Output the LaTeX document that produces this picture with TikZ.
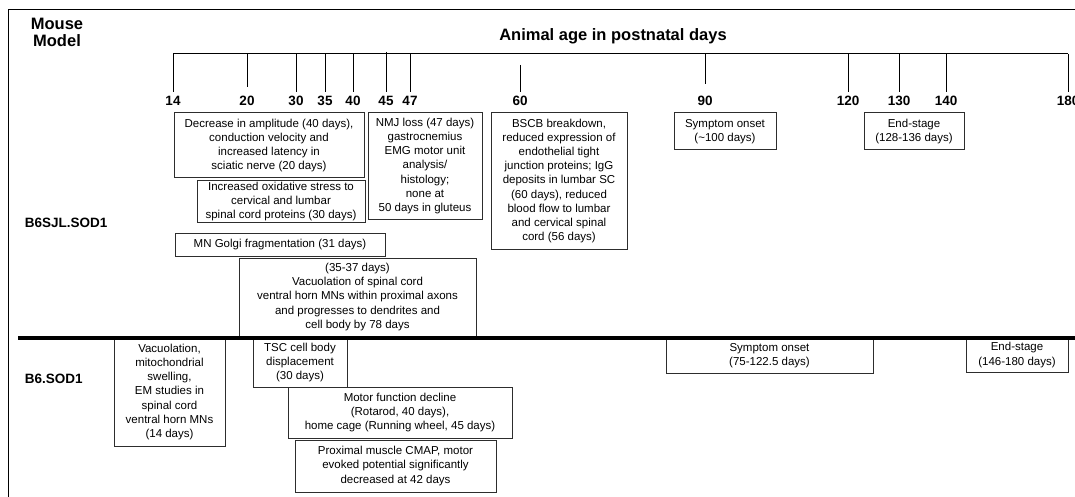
\documentclass[tikz,border=0pt]{standalone}
\usepackage{fontspec}
\setmainfont{Liberation Sans}
\usepackage{tikz}
\usetikzlibrary{positioning}
\definecolor{boxline}{RGB}{45,45,45}

\tikzset{
    evbox/.style={draw=boxline, line width=1pt, align=center, inner sep=0pt,
        font=\fontsize{11.5}{14.2}\selectfont},
    ticklabel/.style={font=\fontsize{13.5}{15}\selectfont\bfseries, anchor=base},
    rowlabel/.style={font=\fontsize{13.5}{16}\selectfont\bfseries, anchor=base west},
    headlabel/.style={font=\fontsize{16.5}{17}\selectfont\bfseries, align=center, inner sep=0pt}
}

\begin{document}
\begin{tikzpicture}[x=1pt, y=-1pt, line width=1pt]
    \useasboundingbox (0,0) rectangle (1075,497);

    % Frame
    \draw (8,497) -- (8,10) -- (1075,10);

    % Headings
    \node[headlabel] (model) at (57,32.5) {Mouse\\Model};
    \node[headlabel, anchor=base] (title) at (613,41) {Animal age in postnatal days};

    % Age axis
    \draw (173,54) -- (1068,54);
    \foreach \d/\x/\ya/\yb in {14/173/54/92, 20/247/54/87, 30/296/54/92, 35/325/54/92,
                               40/353/54/92, 45/386/52/92, 47/410/54/92, 60/520/65/92,
                               90/705/54/84, 120/848/54/92, 130/899/54/92, 140/946/54/92,
                               180/1068/54/92} {
        \draw (\x,\ya) -- (\x,\yb);
        \node[ticklabel] (t\d) at (\x,106) {\d};
    }

    % B6SJL.SOD1
    \node[rowlabel] (sjl) at (21,227) {B6SJL.SOD1};
    \node[evbox, minimum width=190pt, minimum height=65pt] (ampl) at (269,145.5)
        {Decrease in amplitude (40 days),\\conduction velocity and\\increased latency in\\sciatic nerve (20 days)};
    \node[evbox, minimum width=114pt, minimum height=106pt] (nmj) at (425,166)
        {NMJ loss (47 days)\\gastrocnemius\\EMG motor unit\\analysis/\\histology;\\none at\\50 days in gluteus};
    \node[evbox, minimum width=168pt, minimum height=41pt] (oxid) at (281,201.5)
        {Increased oxidative stress to\\cervical and lumbar\\spinal cord proteins (30 days)};
    \node[evbox, minimum width=210pt, minimum height=23pt] (golgi) at (280,244.5)
        {MN Golgi fragmentation (31 days)};
    \node[evbox, minimum width=237pt, minimum height=78pt] (vacsc) at (357.5,297)
        {(35-37 days)\\Vacuolation of spinal cord\\ventral horn MNs within proximal axons\\and progresses to dendrites and\\cell body by 78 days};
    \node[evbox, minimum width=136pt, minimum height=136pt] (bscb) at (559,181)
        {BSCB breakdown,\\reduced expression of\\endothelial tight\\junction proteins; IgG\\deposits in lumbar SC\\(60 days), reduced\\blood flow to lumbar\\and cervical spinal\\cord (56 days)};
    \node[evbox, minimum width=102pt, minimum height=37pt] (onsetsjl) at (725,131.5)
        {Symptom onset\\(\textasciitilde100 days)};
    \node[evbox, minimum width=100pt, minimum height=37pt] (endsjl) at (914,131.5)
        {End-stage\\(128-136 days)};

    % B6.SOD1
    \node[rowlabel] (sod) at (21,383) {B6.SOD1};
    \node[evbox, minimum width=111pt, minimum height=108pt] (vacmito) at (169.5,392)
        {Vacuolation,\\mitochondrial\\swelling,\\EM studies in\\spinal cord\\ventral horn MNs\\(14 days)};
    \node[evbox, minimum width=94pt, minimum height=49pt] (tsc) at (300,362.5)
        {TSC cell body\\displacement\\(30 days)};
    \node[evbox, minimum width=224pt, minimum height=51pt] (motor) at (400,412.5)
        {Motor function decline\\(Rotarod, 40 days),\\home cage (Running wheel, 45 days)};
    \node[evbox, minimum width=201pt, minimum height=52pt] (cmap) at (395.5,466)
        {Proximal muscle CMAP, motor\\evoked potential significantly\\decreased at 42 days};
    \node[evbox, minimum width=207pt, minimum height=35pt] (onsetsod) at (769.5,355.5)
        {Symptom onset\\(75-122.5 days)};
    \node[evbox, minimum width=102pt, minimum height=34pt] (endsod) at (1017,355)
        {End-stage\\(146-180 days)};

    % Divider between the two models
    \draw[line width=4pt] (18,337.5) -- (1075,337.5);
\end{tikzpicture}
\end{document}
